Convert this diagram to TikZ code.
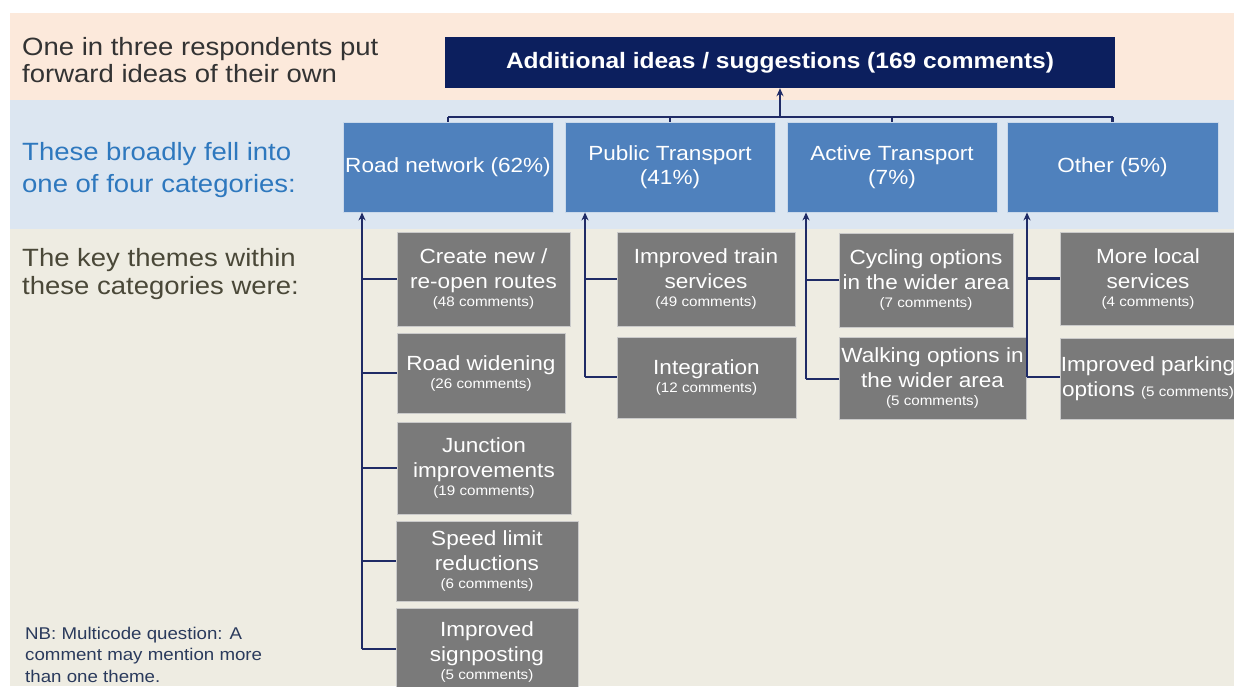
\documentclass[tikz,border=0pt]{standalone}
\usepackage{fontspec}
\setmainfont{Liberation Sans}[FakeStretch=1.1]
\usetikzlibrary{arrows.meta}
\definecolor{peach}{HTML}{FCE9DB}
\definecolor{bluebg}{HTML}{DCE6F1}
\definecolor{beige}{HTML}{EEECE2}
\definecolor{navy}{HTML}{0C1F5E}
\definecolor{catblue}{HTML}{4F81BD}
\definecolor{greybox}{HTML}{7A7A7A}
\definecolor{conn}{HTML}{1F2B66}
\definecolor{txtdark}{HTML}{333333}
\definecolor{txtblue}{HTML}{2E78BE}
\definecolor{txtolive}{HTML}{4A4838}
\definecolor{txtnb}{HTML}{2A3A5C}
\newcommand{\cmt}[1]{{\fontsize{13.8}{14}\selectfont #1}}
\begin{document}
\begin{tikzpicture}[x=1pt,y=-1pt,
  cat/.style={rectangle, fill=catblue, draw=white!70!catblue, line width=0.8pt, text=white, align=center, inner sep=0pt, font=\fontsize{20.5}{24}\selectfont},
  theme/.style={rectangle, fill=greybox, draw=white!60!greybox, line width=0.8pt, text=white, align=center, inner sep=0pt, font=\fontsize{20.5}{25}\selectfont},
  side/.style={anchor=base west, align=left, inner sep=0pt},
  link/.style={draw=conn, line width=2.1pt},
  arr/.style={link, -{Stealth[length=8pt,width=7pt]}}
]
\useasboundingbox (0,0) rectangle (1234,686);
\clip (0,0) rectangle (1234,686);
\fill[white] (0,0) rectangle (1234,686);
\fill[peach] (10,13) rectangle (1234,100);
\fill[bluebg] (10,100) rectangle (1234,229);
\fill[beige] (10,229) rectangle (1234,686);

% left texts (anchored at the baseline of the last line)
\node[side, text=txtdark, font=\fontsize{25}{27}\selectfont] (s1) at (22,82) {One in three respondents put\\forward ideas of their own};
\node[side, text=txtblue, font=\fontsize{25}{32}\selectfont] (s2) at (22,192) {These broadly fell into\\one of four categories:};
\node[side, text=txtolive, font=\fontsize{25}{28}\selectfont] (s3) at (22,294) {The key themes within\\these categories were:};
\node[side, text=txtnb, font=\fontsize{17}{21.5}\selectfont] (nb) at (25,682) {NB: Multicode question: A\\comment may mention more\\than one theme.};

% title
\node[rectangle, fill=navy, text=white, minimum width=670pt, minimum height=51pt, inner sep=0pt, font=\bfseries\fontsize{22.3}{25}\selectfont] (title) at (780,62.5) {Additional ideas / suggestions (169 comments)};

% categories
\node[cat, minimum width=210pt, minimum height=90pt] (rn) at (448,167) {Road network (62\%)};
\node[cat, minimum width=210pt, minimum height=90pt] (pt) at (670,167) {Public Transport\\(41\%)};
\node[cat, minimum width=210pt, minimum height=90pt] (at) at (892,167) {Active Transport\\(7\%)};
\node[cat, minimum width=211pt, minimum height=90pt] (ot) at (1112.5,167) {Other (5\%)};

% bus to title
\coordinate (bus) at (780,117);
\draw[link] (rn.north |- bus) -- (ot.north |- bus);
\foreach \n in {rn,pt,at,ot} \draw[link] (\n.north) -- (\n.north |- bus);
\draw[arr] (bus) -- (title.south);

% trunk coordinates
\coordinate (b1) at (362,649);
\coordinate (b2) at (585,377);
\coordinate (b3) at (806,379);
\coordinate (b4) at (1027,377);

% theme boxes
\node[theme, minimum width=173pt, minimum height=94pt] (g11) at (483.5,279) {Create new /\\re-open routes\\[-7pt]\cmt{(48 comments)}};
\node[theme, minimum width=168pt, minimum height=80pt] (g12) at (481,373) {Road widening\\[-7pt]\cmt{(26 comments)}};
\node[theme, minimum width=174pt, minimum height=92pt] (g13) at (484,468) {Junction\\improvements\\[-7pt]\cmt{(19 comments)}};
\node[theme, minimum width=182pt, minimum height=80pt] (g14) at (487,561) {Speed limit\\reductions\\[-7pt]\cmt{(6 comments)}};
\node[theme, minimum width=182pt, minimum height=88pt] (g15) at (487,652) {Improved\\signposting\\[-7pt]\cmt{(5 comments)}};

\node[theme, minimum width=178pt, minimum height=94pt] (g21) at (706,279) {Improved train\\services\\[-7pt]\cmt{(49 comments)}};
\node[theme, minimum width=179pt, minimum height=81pt] (g22) at (706.5,377.5) {Integration\\[-7pt]\cmt{(12 comments)}};

\node[theme, minimum width=174pt, minimum height=94pt] (g31) at (926,280) {Cycling options\\in the wider area\\[-7pt]\cmt{(7 comments)}};
\node[theme, minimum width=187pt, minimum height=82pt] (g32) at (932.5,378) {Walking options in\\the wider area\\[-7pt]\cmt{(5 comments)}};

\node[theme, minimum width=176pt, minimum height=93pt] (g41) at (1148,278.5) {More local\\services\\[-7pt]\cmt{(4 comments)}};
\node[theme, minimum width=176pt, minimum height=81pt] (g42) at (1148,378.5) {Improved parking\\options \cmt{(5 comments)}};

% trunks and branches
\draw[arr] (b1) -- (b1 |- rn.south);
\foreach \g in {g11,g12,g13,g14} \draw[link] (b1 |- \g.west) -- (\g.west);
\draw[link] (b1) -- (b1 -| g15.west);

\draw[arr] (b2) -- (b2 |- pt.south);
\draw[link] (b2 |- g21.west) -- (g21.west);
\draw[link] (b2) -- (b2 -| g22.west);

\draw[arr] (b3) -- (b3 |- at.south);
\draw[link] (b3 |- g31.west) -- (g31.west);
\draw[link] (b3) -- (b3 -| g32.west);

\draw[arr] (b4) -- (b4 |- ot.south);
\draw[link] (b4 |- g41.west) -- (g41.west);
\draw[link] (b4) -- (b4 -| g42.west);
\end{tikzpicture}
\end{document}
